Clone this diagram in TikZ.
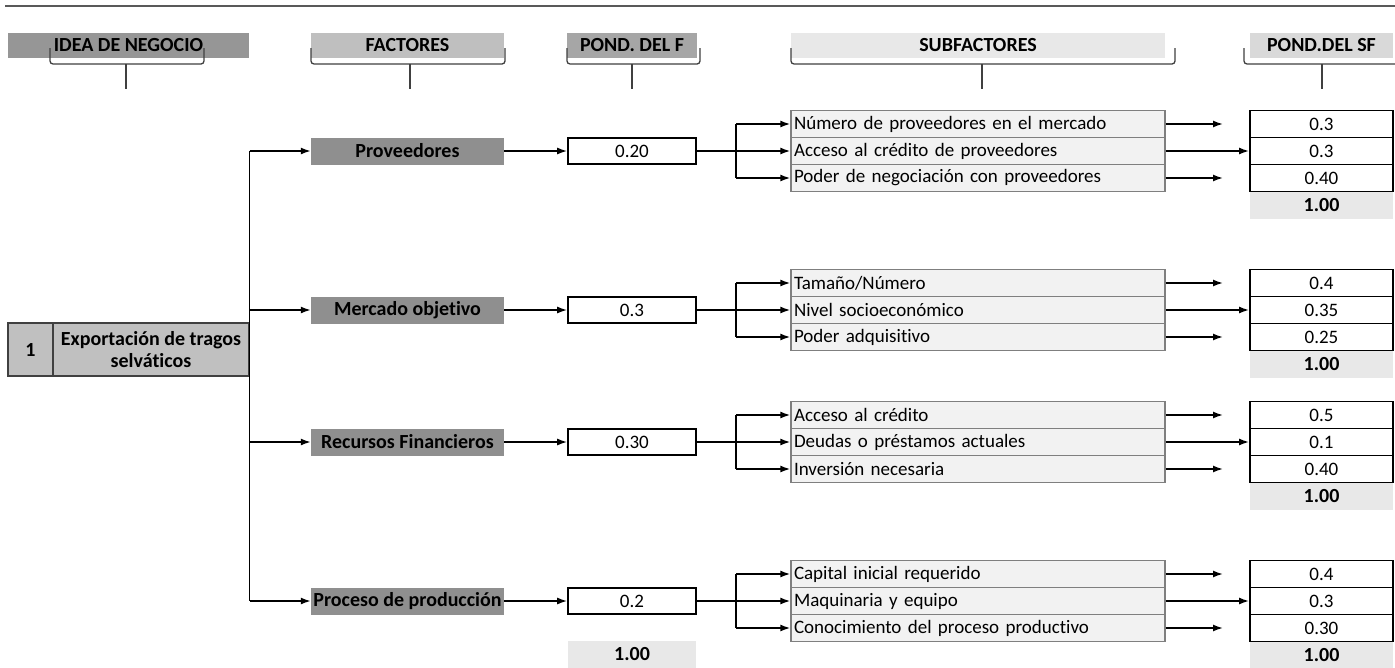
\documentclass[tikz,border=0pt]{standalone}
\usepackage{fontspec}
\setmainfont{Carlito}[Ligatures=NoCommon]
\usetikzlibrary{arrows.meta}
\definecolor{hdrA}{HTML}{969696}
\definecolor{hdrB}{HTML}{BFBFBF}
\definecolor{hdrC}{HTML}{A6A6A6}
\definecolor{hdrD}{HTML}{E8E8E8}
\definecolor{hdrE}{HTML}{D9D9D9}
\definecolor{factfill}{HTML}{8F8F8F}
\definecolor{ideafill}{HTML}{C0C0C0}
\definecolor{subfill}{HTML}{F2F2F2}
\definecolor{subline}{HTML}{7F7F7F}
\definecolor{totfill}{HTML}{E8E8E8}
\definecolor{bracecol}{HTML}{404040}
\tikzset{
  txt/.style={font=\fontsize{19}{21}\selectfont},
  btxt/.style={font=\fontsize{20}{22}\selectfont\bfseries},
  hdrbox/.style={btxt, minimum height=25, inner sep=0},
  factbox/.style={btxt, fill=factfill, minimum width=193, minimum height=27, inner sep=0},
  pondbox/.style={txt, draw=black, line width=1.6, fill=white, minimum width=128, minimum height=26, inner sep=0},
  subbox/.style={txt, draw=subline, line width=1.3, fill=subfill, minimum width=374, minimum height=27, text width=368, align=left, inner sep=2.5},
  valbox/.style={txt, draw=black, line width=1.8, fill=white, minimum width=143, minimum height=27, inner sep=0},
  totbox/.style={btxt, fill=totfill, minimum width=143, minimum height=27, inner sep=0},
  ideabox/.style={btxt, fill=ideafill, draw=bracecol, line width=1.3, minimum height=53, inner sep=0, align=center},
  arr/.style={line width=1.6, -{Latex[length=10,width=7]}},
  ln/.style={line width=1.6},
  bracepath/.style={draw=bracecol, line width=1.3, rounded corners=3},
}
\begin{document}
\begin{tikzpicture}[x=1pt,y=-1pt]
\clip (0,0) rectangle (1395,667);
\fill[white] (0,0) rectangle (1395,667);
% top rule
\draw[line width=2.2, draw=black!65] (5,6) -- (1395,6);
% headers
\node[hdrbox, fill=hdrA, minimum width=241] (h1) at (128.5,45) {IDEA DE NEGOCIO};
\node[hdrbox, fill=hdrB, minimum width=193] (h2) at (407.5,45) {FACTORES};
\node[hdrbox, fill=hdrC, minimum width=130] (h3) at (632,45) {POND. DEL F};
\node[hdrbox, fill=hdrD, minimum width=374] (h4) at (978,45) {SUBFACTORES};
\node[hdrbox, fill=hdrE, minimum width=143] (h5) at (1321.5,45) {POND.DEL SF};
% braces
\draw[bracepath] (50,48) -- (50,64) -- (204,64) -- (204,48);
\draw[bracecol, line width=1.3] (126,64) -- (126,89);
\draw[bracepath] (311,48) -- (311,64) -- (505,64) -- (505,48);
\draw[bracecol, line width=1.3] (410,64) -- (410,89);
\draw[bracepath] (567,48) -- (567,64) -- (700,64) -- (700,48);
\draw[bracecol, line width=1.3] (632,64) -- (632,89);
\draw[bracepath] (791,48) -- (791,64) -- (1175,64) -- (1175,48);
\draw[bracecol, line width=1.3] (982,64) -- (982,89);
\draw[bracepath] (1244,48) -- (1244,64) -- (1420,64) -- (1420,48);
\draw[bracecol, line width=1.3] (1322,64) -- (1322,89);
% idea
\node[ideabox, minimum width=45] (num) at (30.5,349.5) {1};
\node[ideabox, minimum width=196] (idea) at (151,349.5) {Exportación de tragos\\selváticos};
% factors
\node[factbox] (f1) at (407.5,151) {Proveedores};
\node[factbox] (f2) at (407.5,310) {Mercado objetivo};
\node[factbox] (f3) at (407.5,442) {Recursos Financieros};
\node[factbox] (f4) at (407.5,601) {Proceso de producción};
% pond F
\node[pondbox] (p1) at (632,151) {0.20};
\node[pondbox] (p2) at (632,310) {0.3};
\node[pondbox] (p3) at (632,442) {0.30};
\node[pondbox] (p4) at (632,601) {0.2};
\node[totbox, minimum width=128] (pt) at (632,654) {1.00};
% trunk
\draw[ln] (idea.east |- f1) -- (idea.east |- f4);
\foreach \i in {1,...,4}{
  \draw[arr] (idea.east |- f\i) -- (f\i.west);
  \draw[arr] (f\i.east) -- (p\i.west);
}
% subfactors and values
\foreach \g/\c/\ta/\tb/\tc/\va/\vb/\vc in {
  1/151/{Número de proveedores en el mercado}/{Acceso al crédito de proveedores}/{Poder de negociación con proveedores}/0.3/0.3/0.40,
  2/310/{Tamaño/Número}/{Nivel socioeconómico}/{Poder adquisitivo}/0.4/0.35/0.25,
  3/442/{Acceso al crédito}/{Deudas o préstamos actuales}/{Inversión necesaria}/0.5/0.1/0.40,
  4/601/{Capital inicial requerido}/{Maquinaria y equipo}/{Conocimiento del proceso productivo}/0.4/0.3/0.30}{
  \node[subbox] (s\g1) at (978,\c-27) {\ta};
  \node[subbox] (s\g2) at (978,\c) {\tb};
  \node[subbox] (s\g3) at (978,\c+27) {\tc};
  \node[valbox] (v\g1) at (1321.5,\c-27) {\va};
  \node[valbox] (v\g2) at (1321.5,\c) {\vb};
  \node[valbox] (v\g3) at (1321.5,\c+27) {\vc};
  \node[totbox] (t\g) at (1321.5,\c+54) {1.00};
  \coordinate (b\g) at (736,\c);
  \draw[ln] (b\g |- s\g1) -- (b\g |- s\g3);
  \draw[arr] (p\g.east) -- (s\g2.west);
  \draw[arr] (b\g |- s\g1) -- (s\g1.west);
  \draw[arr] (b\g |- s\g3) -- (s\g3.west);
  \coordinate (e\g1) at (1223,\c-27);
  \coordinate (e\g3) at (1223,\c+27);
  \draw[arr] (s\g1.east) -- (e\g1);
  \draw[arr] (s\g2.east) -- (v\g2.west);
  \draw[arr] (s\g3.east) -- (e\g3);
}
\end{tikzpicture}
\end{document}
